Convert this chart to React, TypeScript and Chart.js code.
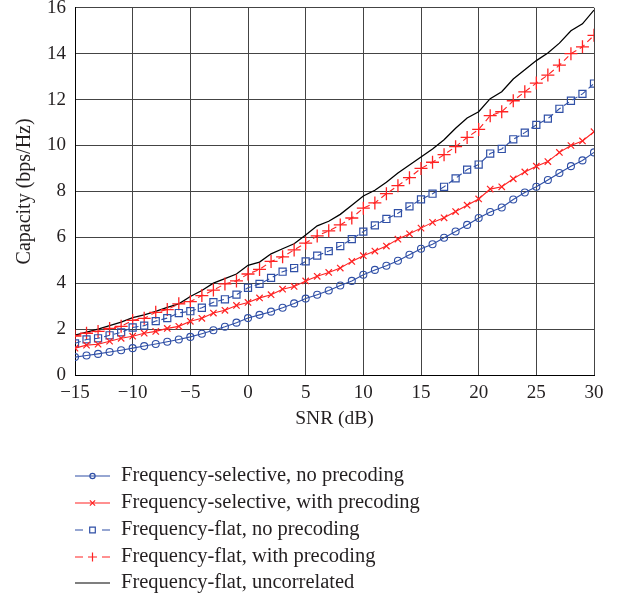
import React, { useEffect, useRef } from "react";
import { Chart, registerables } from "chart.js";

Chart.register(...registerables);

const snrDb = [-15, -14, -13, -12, -11, -10, -9, -8, -7, -6, -5, -4, -3, -2, -1, 0, 1, 2, 3, 4, 5, 6, 7, 8, 9, 10, 11, 12, 13, 14, 15, 16, 17, 18, 19, 20, 21, 22, 23, 24, 25, 26, 27, 28, 29, 30];

const selNoPrecoding = [0.78, 0.85, 0.92, 1.0, 1.08, 1.17, 1.26, 1.35, 1.45, 1.55, 1.66, 1.8, 1.95, 2.1, 2.28, 2.48, 2.62, 2.76, 2.93, 3.12, 3.33, 3.5, 3.68, 3.9, 4.1, 4.37, 4.58, 4.76, 4.98, 5.24, 5.5, 5.7, 5.98, 6.25, 6.54, 6.84, 7.1, 7.3, 7.65, 7.95, 8.2, 8.5, 8.8, 9.1, 9.35, 9.7];
const selPrecoding = [1.17, 1.3, 1.34, 1.47, 1.6, 1.69, 1.82, 1.9, 2.03, 2.12, 2.34, 2.47, 2.7, 2.82, 3.03, 3.16, 3.36, 3.5, 3.74, 3.86, 4.1, 4.3, 4.47, 4.66, 4.95, 5.2, 5.4, 5.62, 5.92, 6.15, 6.4, 6.65, 6.85, 7.12, 7.4, 7.67, 8.1, 8.2, 8.55, 8.85, 9.1, 9.3, 9.7, 10.0, 10.2, 10.6];
const flatNoPrecoding = [1.38, 1.55, 1.6, 1.73, 1.86, 2.07, 2.15, 2.35, 2.48, 2.7, 2.78, 2.93, 3.17, 3.3, 3.5, 3.8, 3.97, 4.23, 4.5, 4.66, 4.95, 5.2, 5.4, 5.62, 5.92, 6.25, 6.52, 6.8, 7.05, 7.35, 7.65, 7.9, 8.2, 8.57, 8.95, 9.17, 9.65, 9.85, 10.27, 10.56, 10.9, 11.17, 11.6, 11.95, 12.25, 12.7];
const flatPrecoding = [1.7, 1.82, 1.9, 2.03, 2.12, 2.38, 2.47, 2.73, 2.85, 3.1, 3.2, 3.46, 3.7, 3.97, 4.1, 4.4, 4.6, 4.95, 5.15, 5.45, 5.75, 6.06, 6.28, 6.54, 6.84, 7.27, 7.5, 7.9, 8.25, 8.6, 9.0, 9.27, 9.6, 9.95, 10.35, 10.7, 11.3, 11.47, 11.95, 12.34, 12.72, 13.07, 13.5, 14.0, 14.3, 14.8];
const flatUncorrelated = [1.73, 1.87, 2.0, 2.15, 2.3, 2.5, 2.62, 2.77, 2.95, 3.1, 3.42, 3.68, 4.0, 4.2, 4.4, 4.78, 4.92, 5.28, 5.5, 5.72, 6.1, 6.5, 6.7, 7.0, 7.4, 7.8, 8.05, 8.4, 8.8, 9.15, 9.5, 9.85, 10.25, 10.75, 11.2, 11.47, 12.04, 12.34, 12.9, 13.3, 13.7, 14.03, 14.46, 15.0, 15.3, 15.9];

const seriesLabels = [
  "Frequency-selective, no precoding",
  "Frequency-selective, with precoding",
  "Frequency-flat, no precoding",
  "Frequency-flat, with precoding",
  "Frequency-flat, uncorrelated",
];

const xTicks = [-15, -10, -5, 0, 5, 10, 15, 20, 25, 30];
const yTicks = [0, 2, 4, 6, 8, 10, 12, 14, 16];

const BLUE = "#2f4fa6";
const RED = "#ff2222";
const TEXT = "#231f20";
const FONT = "'Liberation Serif', 'DejaVu Serif', serif";

const toPts = (ys: number[]) => ys.map((y, i) => ({ x: snrDb[i], y }));

function drawMarker(ctx: CanvasRenderingContext2D, style: string, x: number, y: number, r: number) {
  ctx.beginPath();
  if (style === "circle") {
    ctx.arc(x, y, r, 0, Math.PI * 2);
  } else if (style === "rect") {
    ctx.rect(x - r, y - r, 2 * r, 2 * r);
  } else if (style === "cross") {
    ctx.moveTo(x - r, y);
    ctx.lineTo(x + r, y);
    ctx.moveTo(x, y - r);
    ctx.lineTo(x, y + r);
  } else if (style === "crossRot") {
    ctx.moveTo(x - r, y - r);
    ctx.lineTo(x + r, y + r);
    ctx.moveTo(x - r, y + r);
    ctx.lineTo(x + r, y - r);
  }
  ctx.stroke();
}

const legendPlugin = {
  id: "customLegend",
  afterDraw(chart: any) {
    const ctx: CanvasRenderingContext2D = chart.ctx;
    const rows = [476, 503, 530, 557, 583];
    const x0 = 75;
    const x1 = 110;
    const xm = (x0 + x1) / 2;
    chart.data.datasets.forEach((ds: any, i: number) => {
      const y = rows[i];
      ctx.save();
      ctx.strokeStyle = ds.borderColor;
      ctx.lineWidth = 1.2;
      ctx.setLineDash([]);
      if (ds.borderDash && ds.borderDash.length) {
        ctx.beginPath();
        ctx.moveTo(x0, y);
        ctx.lineTo(x0 + 8, y);
        ctx.moveTo(x1 - 8, y);
        ctx.lineTo(x1, y);
        ctx.stroke();
      } else {
        ctx.beginPath();
        ctx.moveTo(x0, y);
        ctx.lineTo(x1, y);
        ctx.stroke();
      }
      if (ds.pointRadius > 0) {
        drawMarker(ctx, ds.pointStyle, xm, y, ds.legendR);
      }
      ctx.fillStyle = TEXT;
      ctx.font = `20.5px ${FONT}`;
      ctx.textBaseline = "middle";
      ctx.textAlign = "left";
      ctx.fillText(ds.label, 121, y);
      ctx.restore();
    });
  },
};

export default function App() {
  const ref = useRef<HTMLCanvasElement | null>(null);

  useEffect(() => {
    if (!ref.current) return;
    const chart = new Chart(ref.current, {
      type: "line",
      data: {
        datasets: [
          {
            label: seriesLabels[0],
            data: toPts(selNoPrecoding),
            borderColor: BLUE,
            borderWidth: 1.1,
            pointStyle: "circle",
            pointRadius: 3.5,
            pointBorderWidth: 1.1,
            pointBackgroundColor: "rgba(0,0,0,0)",
            pointBorderColor: BLUE,
            legendR: 2.6,
          } as any,
          {
            label: seriesLabels[1],
            data: toPts(selPrecoding),
            borderColor: RED,
            borderWidth: 1.1,
            pointStyle: "crossRot",
            pointRadius: 4.5,
            pointBorderWidth: 1.2,
            pointBorderColor: RED,
            legendR: 2.6,
          } as any,
          {
            label: seriesLabels[2],
            data: toPts(flatNoPrecoding),
            borderColor: BLUE,
            borderWidth: 1.1,
            borderDash: [6, 4],
            pointStyle: "rect",
            pointRadius: 5,
            pointBorderWidth: 1.2,
            pointBackgroundColor: "rgba(0,0,0,0)",
            pointBorderColor: BLUE,
            legendR: 2.8,
          } as any,
          {
            label: seriesLabels[3],
            data: toPts(flatPrecoding),
            borderColor: RED,
            borderWidth: 1.1,
            borderDash: [6, 4],
            pointStyle: "cross",
            pointRadius: 6.5,
            pointBorderWidth: 1.3,
            pointBorderColor: RED,
            legendR: 4.5,
          } as any,
          {
            label: seriesLabels[4],
            data: toPts(flatUncorrelated),
            borderColor: "#000000",
            borderWidth: 1.3,
            pointRadius: 0,
            legendR: 0,
          } as any,
        ],
      },
      options: {
        responsive: false,
        animation: false,
        events: [],
        layout: { padding: { left: 0, top: 3, right: 29, bottom: 158 } },
        plugins: {
          legend: { display: false },
          tooltip: { enabled: false },
        },
        elements: { line: { tension: 0 } },
        scales: {
          x: {
            type: "linear",
            min: -15,
            max: 30,
            afterBuildTicks: (s: any) => {
              s.ticks = xTicks.map((v) => ({ value: v }));
            },
            afterFit: (s: any) => {
              s.height = 65;
              s.paddingLeft = 0;
              s.paddingRight = 0;
            },
            grid: { color: "#444", lineWidth: 1, drawTicks: false },
            border: { color: "#000", width: 1 },
            ticks: {
              padding: 7,
              color: TEXT,
              font: { family: FONT, size: 19 },
              maxRotation: 0,
              callback: (v: any) => String(v).replace("-", "\u2212"),
            },
            title: {
              display: true,
              text: "SNR (dB)",
              color: TEXT,
              font: { family: FONT, size: 19.5 },
              padding: { top: 0, bottom: 9 },
            },
          },
          y: {
            type: "linear",
            min: 0,
            max: 16,
            afterBuildTicks: (s: any) => {
              s.ticks = yTicks.map((v) => ({ value: v }));
            },
            afterFit: (s: any) => {
              s.width = 75;
              s.paddingTop = 0;
              s.paddingBottom = 0;
            },
            grid: { color: "#444", lineWidth: 1, drawTicks: false },
            border: { color: "#000", width: 1 },
            ticks: {
              padding: 9,
              color: TEXT,
              font: { family: FONT, size: 19 },
            },
            title: {
              display: true,
              text: "Capacity (bps/Hz)",
              color: TEXT,
              font: { family: FONT, size: 20 },
              padding: { top: 13, bottom: 0 },
            },
          },
        },
      },
      plugins: [legendPlugin],
    });
    return () => chart.destroy();
  }, []);

  return (
    <div style={{ position: "absolute", left: 0, top: 0, width: 623, height: 598, background: "#fff" }}>
      <canvas ref={ref} width={623} height={598} style={{ display: "block" }} />
    </div>
  );
}
